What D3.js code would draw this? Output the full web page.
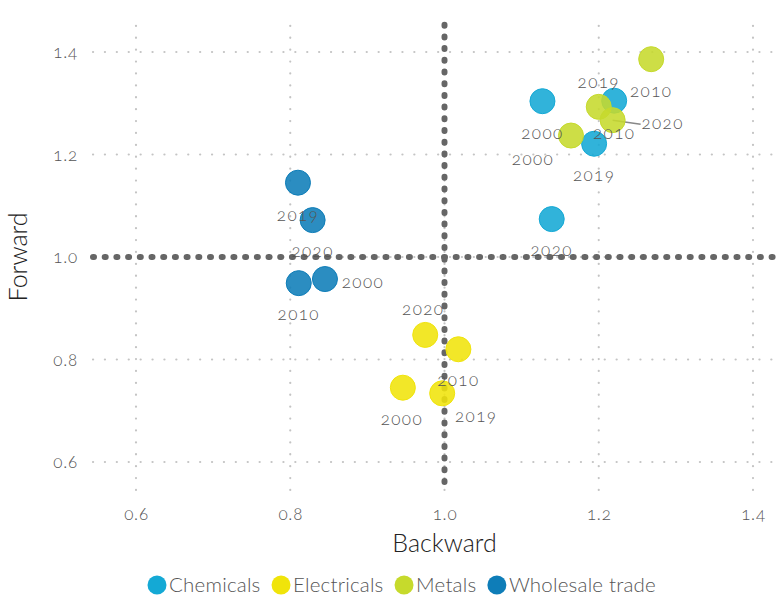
<!DOCTYPE html>
<html lang="en">
<head>
<meta charset="utf-8">
<title>Forward vs Backward</title>
<script src="https://d3js.org/d3.v7.min.js"></script>
<style>
  body { margin: 0; background: #fff; }
  text { font-family: Lato, "Open Sans", sans-serif; font-weight: 300; font-feature-settings: "onum" 1; }
</style>
</head>
<body>
<script>
// series and values
var sectors = ["Chemicals", "Electricals", "Metals", "Wholesale trade"]
var colors = ["#14a9d5", "#f0e40a", "#c6da2c", "#0e7db8"]
var years = ["2000", "2010", "2019", "2020"]

var chemicals_x = [1.127, 1.220, 1.194, 1.139]
var chemicals_y = [1.304, 1.305, 1.221, 1.074]
var electricals_x = [0.946, 1.018, 0.997, 0.975]
var electricals_y = [0.745, 0.820, 0.734, 0.848]
var metals_x = [1.164, 1.268, 1.200, 1.218]
var metals_y = [1.237, 1.386, 1.293, 1.267]
var wholesale_x = [0.845, 0.811, 0.810, 0.829]
var wholesale_y = [0.957, 0.949, 1.145, 1.072]

var xticks = [0.6, 0.8, 1.0, 1.2, 1.4]
var yticks = [0.6, 0.8, 1.0, 1.2, 1.4]

// where the label repel put each year's text (px offset from the point)
var label_dx = [[0, 0, 0, 0], [-1, 0, 34, -2], [-38, 0, 0, 50], [38, 0, 0, 0]]
var label_dy = [[32, 32, 31, 31], [31, 31, 23, -26], [24, 32, -25, 3], [3, 31, 32, 31]]

var xs = [chemicals_x, electricals_x, metals_x, wholesale_x]
var ys = [chemicals_y, electricals_y, metals_y, wholesale_y]

var points = []
sectors.forEach(function(s, i) {
  years.forEach(function(yr, j) {
    points.push({sector: s, si: i, year: yr, x: xs[i][j], y: ys[i][j], dx: label_dx[i][j], dy: label_dy[i][j]})
  })
})

var W = 781, H = 597
var panel = {left: 93, right: 781, top: 20, bottom: 490}

var svg = d3.select("body").append("svg")
  .attr("width", W)
  .attr("height", H)

var x = d3.scaleLinear().domain([0.6, 1.4]).range([136, 753])
var y = d3.scaleLinear().domain([0.6, 1.4]).range([462, 52])

// dotted grid
var grid = svg.append("g")
grid.selectAll("line.gx").data(xticks).enter().append("line")
  .attr("x1", d => x(d)).attr("x2", d => x(d))
  .attr("y1", panel.bottom).attr("y2", panel.top)
  .attr("stroke", "#c4c4c4").attr("stroke-width", 2.2)
  .attr("stroke-dasharray", "0.1 11.8").attr("stroke-linecap", "round")
grid.selectAll("line.gy").data(yticks).enter().append("line")
  .attr("y1", d => y(d)).attr("y2", d => y(d))
  .attr("x1", panel.left).attr("x2", panel.right)
  .attr("stroke", "#c4c4c4").attr("stroke-width", 2.2)
  .attr("stroke-dasharray", "0.1 11.8").attr("stroke-linecap", "round")

// reference lines at 1
svg.append("line")
  .attr("x1", panel.left).attr("x2", panel.right)
  .attr("y1", y(1)).attr("y2", y(1))
  .attr("stroke", "#666").attr("stroke-width", 6)
  .attr("stroke-dasharray", "1 10.7").attr("stroke-linecap", "round")
svg.append("line")
  .attr("x1", x(1)).attr("x2", x(1))
  .attr("y1", panel.bottom - 8).attr("y2", panel.top)
  .attr("stroke", "#666").attr("stroke-width", 6)
  .attr("stroke-dasharray", "1 10.7").attr("stroke-linecap", "round")

// axes
var xAxis = d3.axisBottom(x).tickValues(xticks).tickFormat(d3.format(".1f")).tickSize(0).tickPadding(0)
var yAxis = d3.axisLeft(y).tickValues(yticks).tickFormat(d3.format(".1f")).tickSize(0).tickPadding(0)

var gx = svg.append("g").attr("transform", "translate(0," + 520 + ")").call(xAxis)
var gy = svg.append("g").attr("transform", "translate(" + 78 + ",0)").call(yAxis)
gx.select(".domain").remove()
gy.select(".domain").remove()
gx.selectAll("text").attr("font-size", 17).attr("fill", "#555").attr("letter-spacing", 0.8).attr("dy", "0")
gy.selectAll("text").attr("font-size", 17).attr("fill", "#555").attr("letter-spacing", 0.8).attr("dy", "0.35em")

svg.append("text")
  .attr("x", x(1)).attr("y", 552)
  .attr("text-anchor", "middle")
  .attr("font-size", 25).attr("fill", "#222")
  .text("Backward")
svg.append("text")
  .attr("transform", "translate(27," + y(1) + ") rotate(-90)")
  .attr("text-anchor", "middle")
  .attr("font-size", 25).attr("fill", "#222")
  .text("Forward")

// segment for the label that was pushed away
svg.append("g").selectAll("line")
  .data(points.filter(d => Math.abs(d.dx) > 45))
  .enter().append("line")
  .attr("x1", d => x(d.x)).attr("y1", d => y(d.y))
  .attr("x2", d => x(d.x) + d.dx - 22).attr("y2", d => y(d.y) + d.dy + 1)
  .attr("stroke", "#888").attr("stroke-width", 1.5)

// points
svg.append("g").selectAll("circle")
  .data(points)
  .enter().append("circle")
  .attr("cx", d => x(d.x))
  .attr("cy", d => y(d.y))
  .attr("r", 12.5)
  .attr("fill", d => colors[d.si])
  .attr("fill-opacity", 0.88)
  .attr("stroke", d => colors[d.si])
  .attr("stroke-width", 1)

// year labels
svg.append("g").selectAll("text")
  .data(points)
  .enter().append("text")
  .attr("x", d => x(d.x) + d.dx)
  .attr("y", d => y(d.y) + d.dy)
  .attr("dy", "0.35em")
  .attr("text-anchor", "middle")
  .attr("font-size", 17).attr("fill", "#555")
  .attr("letter-spacing", 1.4)
  .text(d => d.year)

// legend
var legend = svg.append("g").attr("transform", "translate(0,585)")
var items = legend.selectAll("g").data(sectors).enter().append("g")
items.append("circle").attr("r", 9.5).attr("fill", (d, i) => colors[i])
items.append("text").attr("x", 12).attr("dy", "0.35em")
  .attr("font-size", 20.5).attr("fill", "#555").attr("letter-spacing", 0.2).text(d => d)
var pos = 157, widths = []
items.each(function() { widths.push(this.getBBox().width) })
items.attr("transform", function(d, i) {
  var t = "translate(" + pos + ",0)"
  pos += widths[i] + 11
  return t
})
</script>
</body>
</html>
